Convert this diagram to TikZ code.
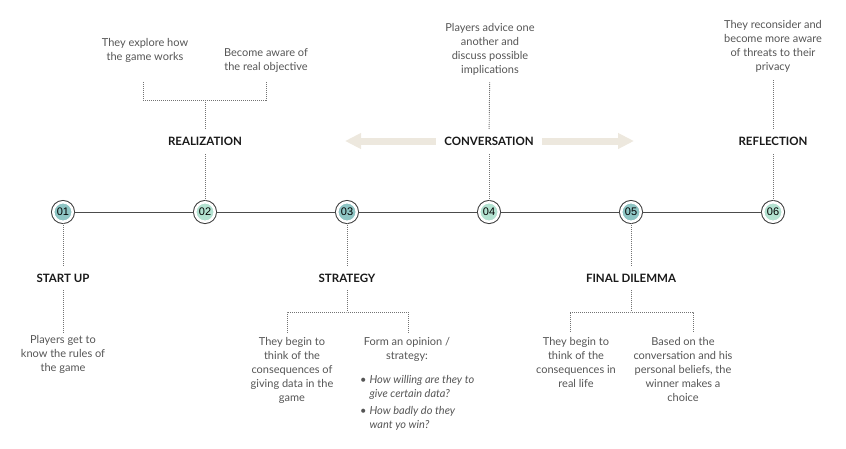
\documentclass[tikz,border=0pt]{standalone}
\usepackage{fontspec}
\setmainfont{Lato}
\newfontfamily\numfont{Liberation Sans}
\usepackage{xcolor}
\usepackage{tikz}
\usetikzlibrary{shapes,arrows,positioning,calc,arrows.meta}

\definecolor{tealdark}{RGB}{142,197,196}
\definecolor{tealmint}{RGB}{179,226,209}
\definecolor{ringgray}{RGB}{58,58,58}
\definecolor{txtgray}{RGB}{85,85,85}
\definecolor{beige}{RGB}{237,232,222}

\tikzset{
    stepdot/.style={circle, minimum size=19.5pt, inner sep=0pt, draw=white, line width=2.5pt,
        preaction={draw=ringgray, line width=4.5pt}, font=\numfont\fontsize{11}{12}\selectfont},
    phase/.style={font=\fontsize{11.5}{13}\selectfont\bfseries, text=black!90, minimum height=24pt, inner sep=0pt},
    desc/.style={font=\fontsize{11}{14}\selectfont, text=txtgray, align=center, inner sep=2pt},
    timeline/.style={line width=1pt, black!70},
    dots/.style={line width=0.9pt, black!55, dash pattern=on 1pt off 1pt},
    convarrow/.style={line width=7pt, beige, -{Triangle[length=16pt,width=15pt]}}
}

\begin{document}
\begin{tikzpicture}[x=1pt, y=-1pt]
    \useasboundingbox (0,0) rectangle (846,448);

    \node (s1) at (63,212) [stepdot, fill=tealdark] {01};
    \node (s2) at (205,212) [stepdot, fill=tealmint] {02};
    \node (s3) at (347,212) [stepdot, fill=tealdark] {03};
    \node (s4) at (489,212) [stepdot, fill=tealmint] {04};
    \node (s5) at (631,212) [stepdot, fill=tealdark] {05};
    \node (s6) at (773,212) [stepdot, fill=tealmint] {06};
    \draw[timeline] (s1) -- (s2);
    \draw[timeline] (s2) -- (s3);
    \draw[timeline] (s3) -- (s4);
    \draw[timeline] (s4) -- (s5);
    \draw[timeline] (s5) -- (s6);

    \node (startup) at (63,278) [phase] {START UP};
    \node (realization) at (205,141) [phase] {REALIZATION};
    \node (strategy) at (347,278) [phase] {STRATEGY};
    \node (conversation) at (489,141) [phase, inner xsep=8pt] {CONVERSATION};
    \node (dilemma) at (631,278) [phase] {FINAL DILEMMA};
    \node (reflection) at (773,141) [phase] {REFLECTION};

    \node (rules) at (63,333) [desc, anchor=north] {Players get to\\know the rules of\\the game};
    \node (explore) at (145,36) [desc, anchor=north] {They explore how\\the game works};
    \node (aware) at (266,46) [desc, anchor=north] {Become aware of\\the real objective};
    \node (stratthink) at (292,335) [desc, anchor=north] {They begin to\\think of the\\consequences of\\giving data in the\\game};
    \node (opinion) at (407,335) [desc, anchor=north] {Form an opinion /\\strategy:};
    \node (questions) at (360,373) [desc, anchor=north west, inner sep=0pt, align=left]
        {\begin{tabular}{@{}l@{\hspace{3pt}}l@{}}
         \textbullet & \textit{How willing are they to}\\
                     & \textit{give certain data?}\\[3pt]
         \textbullet & \textit{How badly do they}\\
                     & \textit{want yo win?}
         \end{tabular}};
    \node (advice) at (490,21) [desc, anchor=north] {Players advice one\\another and\\discuss possible\\implications};
    \node (reallife) at (576,335) [desc, anchor=north] {They begin to\\think of the\\consequences in\\real life};
    \node (choice) at (683,335) [desc, anchor=north] {Based on the\\conversation and his\\personal beliefs, the\\winner makes a\\choice};
    \node (reconsider) at (773,18) [desc, anchor=north] {They reconsider and\\become more aware\\of threats to their\\privacy};

    \coordinate (rfork) at (205,100);
    \coordinate (rleft) at (143,82);
    \coordinate (rright) at (266,82);
    \coordinate (sfork) at (347,312);
    \coordinate (sleft) at (287,333);
    \coordinate (sright) at (408,333);
    \coordinate (ffork) at (631,312);
    \coordinate (fleft) at (570,332);
    \coordinate (fright) at (693,332);
    \coordinate (convleft) at (345,141);
    \coordinate (convright) at (634,141);

    \draw[dots] (s1) -- (startup);
    \draw[dots] (startup) -- (rules);
    \draw[dots] (s2) -- (realization);
    \draw[dots] (realization) -- (rfork);
    \draw[dots] (rleft) |- (rfork) -| (rright);
    \draw[dots] (s3) -- (strategy);
    \draw[dots] (strategy) -- (sfork);
    \draw[dots] (sleft) |- (sfork) -| (sright);
    \draw[dots] (s4) -- (conversation);
    \draw[dots, shorten >=5pt] (conversation) -- (advice);
    \draw[dots] (s5) -- (dilemma);
    \draw[dots] (dilemma) -- (ffork);
    \draw[dots] (fleft) |- (ffork) -| (fright);
    \draw[dots] (s6) -- (reflection);
    \draw[dots, shorten >=6pt] (reflection) -- (reconsider);

    \draw[convarrow] (conversation) -- (convleft);
    \draw[convarrow] (conversation) -- (convright);
\end{tikzpicture}
\end{document}
